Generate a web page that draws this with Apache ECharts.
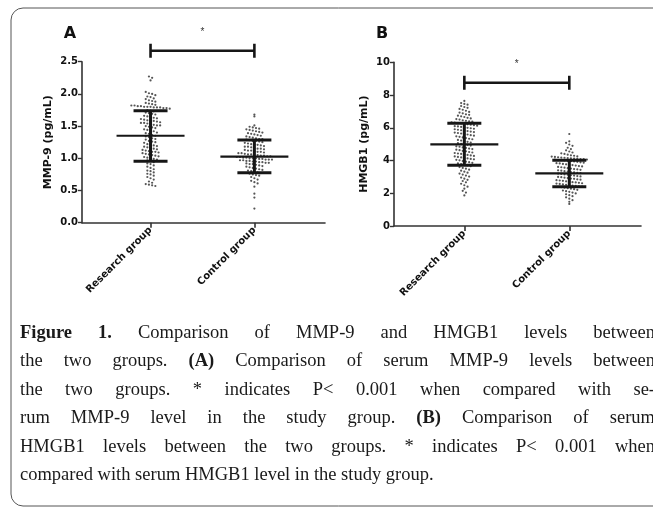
<!DOCTYPE html>
<html>
<head>
<meta charset="utf-8">
<script src="https://cdn.jsdelivr.net/npm/echarts@6/dist/echarts.min.js"></script>
<style>html,body{margin:0;padding:0;background:#fff}#c{width:653px;height:508px}</style>
</head>
<body>
<div id="c"></div>
<script>
// ---------- data ----------
const categories = ['Research group', 'Control group'];
const panelLetters = ['A', 'B'];
const yAxisNames = ['MMP-9 (pg/mL)', 'HMGB1 (pg/mL)'];

const researchMMP9 = [2.27, 2.25, 2.21,
  2.03, 2.01, 2.00, 1.98, 1.96, 1.95, 1.93, 1.92, 1.90, 1.89, 1.88, 1.86, 1.85, 1.84, 1.83, 1.82, 1.82, 1.81, 1.81, 1.80, 1.80, 1.80, 1.79, 1.79, 1.79, 1.78, 1.78, 1.77,
  1.75, 1.74, 1.73, 1.71, 1.70, 1.69, 1.68, 1.66, 1.65, 1.64, 1.63, 1.62, 1.61, 1.60, 1.59, 1.58, 1.58, 1.57, 1.56, 1.55, 1.55, 1.54, 1.53, 1.52, 1.51, 1.51, 1.50, 1.49, 1.48, 1.47, 1.45, 1.44, 1.43, 1.42, 1.40, 1.39, 1.38, 1.36, 1.35, 1.34, 1.33, 1.31, 1.30, 1.29, 1.27, 1.26, 1.25, 1.24, 1.22, 1.21, 1.20, 1.19, 1.18, 1.17, 1.16, 1.15, 1.14, 1.13, 1.12, 1.11, 1.10, 1.10, 1.09, 1.08, 1.07, 1.06, 1.05, 1.04, 1.03, 1.02, 1.01, 1.00, 0.99, 0.98, 0.97, 0.96,
  0.94, 0.92, 0.91, 0.89, 0.87, 0.85, 0.83, 0.81, 0.80, 0.78, 0.76, 0.75, 0.73, 0.71, 0.69, 0.67, 0.64, 0.62, 0.60, 0.59, 0.58, 0.57];
const controlMMP9 = [1.68, 1.65,
  1.51, 1.49, 1.48, 1.47, 1.46, 1.45, 1.44, 1.43, 1.42, 1.41, 1.40, 1.39, 1.38, 1.37, 1.36, 1.35, 1.34, 1.33, 1.32, 1.31, 1.30, 1.30, 1.29, 1.28, 1.27, 1.27, 1.26, 1.25, 1.24, 1.23, 1.22, 1.21, 1.21, 1.20, 1.19, 1.18, 1.18, 1.17, 1.16, 1.15, 1.15, 1.14, 1.13, 1.12, 1.12, 1.11, 1.10, 1.10, 1.09, 1.08, 1.08, 1.07, 1.06, 1.06, 1.05, 1.05, 1.04, 1.04, 1.03, 1.03, 1.02, 1.02, 1.01, 1.01, 1.00, 1.00, 1.00, 0.99, 0.99, 0.98, 0.98, 0.98, 0.97, 0.97, 0.96, 0.96, 0.95, 0.95, 0.94, 0.94, 0.93, 0.93, 0.92, 0.91, 0.91, 0.90, 0.89, 0.88, 0.87, 0.86, 0.85, 0.84, 0.83, 0.82, 0.81, 0.80, 0.79, 0.78, 0.77, 0.76, 0.75, 0.74, 0.73, 0.71, 0.69, 0.67, 0.65, 0.63, 0.61, 0.56, 0.45, 0.39, 0.22];
const researchHMGB1 = [7.64, 7.51, 7.46, 7.41, 7.33, 7.27, 7.22, 7.15, 7.10, 7.04, 6.97, 6.93, 6.88, 6.82, 6.79, 6.74, 6.70, 6.66, 6.61, 6.57, 6.53, 6.50, 6.46, 6.43, 6.40, 6.37, 6.33, 6.31, 6.28, 6.26, 6.24, 6.21, 6.19, 6.16, 6.13, 6.10, 6.08, 6.05, 6.02, 6.00, 5.97, 5.94, 5.91, 5.88, 5.85, 5.82, 5.80, 5.77, 5.74, 5.71, 5.68, 5.65, 5.62, 5.59, 5.55, 5.52, 5.48, 5.45, 5.41, 5.37, 5.33, 5.30, 5.26, 5.22, 5.18, 5.14, 5.10, 5.06, 5.02, 4.98, 4.95, 4.91, 4.87, 4.84, 4.80, 4.77, 4.73, 4.70, 4.66, 4.63, 4.59, 4.56, 4.52, 4.49, 4.46, 4.43, 4.40, 4.37, 4.34, 4.31, 4.28, 4.25, 4.22, 4.19, 4.16, 4.13, 4.10, 4.07, 4.04, 4.01, 3.97, 3.93, 3.90, 3.86, 3.82, 3.78, 3.74, 3.70, 3.65, 3.60, 3.55, 3.50, 3.44, 3.38, 3.32, 3.26, 3.20, 3.14, 3.08, 3.02, 2.96, 2.89, 2.82, 2.75, 2.67, 2.58, 2.49, 2.40, 2.28, 2.15, 2.04, 1.87];
const controlHMGB1 = [5.62, 5.17, 5.08, 4.98, 4.90, 4.78, 4.70, 4.62, 4.55, 4.49, 4.44, 4.40, 4.36, 4.32, 4.29, 4.26, 4.24, 4.22, 4.20, 4.18, 4.17, 4.15, 4.14, 4.12, 4.11, 4.09, 4.08, 4.06, 4.05, 4.03, 4.02, 4.00, 3.98, 3.96, 3.94, 3.92, 3.89, 3.87, 3.84, 3.82, 3.79, 3.77, 3.74, 3.72, 3.69, 3.66, 3.64, 3.61, 3.59, 3.56, 3.53, 3.51, 3.48, 3.46, 3.43, 3.40, 3.38, 3.35, 3.33, 3.30, 3.28, 3.25, 3.23, 3.20, 3.18, 3.15, 3.13, 3.10, 3.08, 3.05, 3.03, 3.00, 2.98, 2.95, 2.93, 2.90, 2.88, 2.85, 2.83, 2.80, 2.78, 2.76, 2.73, 2.71, 2.68, 2.66, 2.64, 2.61, 2.59, 2.57, 2.54, 2.52, 2.50, 2.47, 2.45, 2.42, 2.40, 2.37, 2.34, 2.31, 2.28, 2.25, 2.21, 2.17, 2.13, 2.09, 2.04, 1.99, 1.94, 1.88, 1.82, 1.75, 1.67, 1.58, 1.48, 1.35];

// mean and SD limits [research, control]
const meanMMP9 = [1.35, 1.025];
const sdLowMMP9 = [0.953, 0.776];
const sdHighMMP9 = [1.739, 1.284];
const meanHMGB1 = [4.99, 3.22];
const sdLowHMGB1 = [3.71, 2.40];
const sdHighHMGB1 = [6.27, 4.01];

// significance bracket heights (axis units)
const sigMMP9 = 2.67;
const sigHMGB1 = 8.75;
const sigLabel = '*';

// y axis ranges and tick steps
const yMaxA = 2.5, yStepA = 0.5;
const yMaxB = 10, yStepB = 2;

const captionLines = [
  [['Figure 1.', true], [' Comparison of MMP-9 and HMGB1 levels between', false]],
  [['the two groups. ', false], ['(A)', true], [' Comparison of serum MMP-9 levels between', false]],
  [['the two groups. * indicates P< 0.001 when compared with se-', false]],
  [['rum MMP-9 level in the study group. ', false], ['(B)', true], [' Comparison of serum', false]],
  [['HMGB1 levels between the two groups. * indicates P< 0.001 when', false]],
  [['compared with serum HMGB1 level in the study group.', false]]
];

// ---------- layout ----------
const gridA = {left: 82, top: 61.7, width: 243, height: 161};
const gridB = {left: 394, top: 62.3, width: 247, height: 163.7};
const xRangeA = [-0.66, 1.68];
const xRangeB = [-0.67, 1.683];

function swarm(values, center, grid, xRange, yMax, rowPx, colPx) {
  const pyu = grid.height / yMax;
  const pxu = grid.width / (xRange[1] - xRange[0]);
  const rows = {};
  values.forEach(v => {
    const r = Math.round(v * pyu / rowPx);
    (rows[r] = rows[r] || []).push(v);
  });
  const out = [];
  Object.keys(rows).forEach(k => {
    const arr = rows[k];
    const n = arr.length;
    arr.forEach((v, i) => {
      const off = (i - (n - 1) / 2) * colPx;
      out.push([center + off / pxu, v]);
    });
  });
  return out;
}

const ROW = 3.4, COL = 3.2;
const dotsA0 = swarm(researchMMP9, 0, gridA, xRangeA, yMaxA, ROW, COL);
const dotsA1 = swarm(controlMMP9, 1, gridA, xRangeA, yMaxA, ROW, COL);
const dotsB0 = swarm(researchHMGB1, 0, gridB, xRangeB, yMaxB, ROW, COL);
const dotsB1 = swarm(controlHMGB1, 1, gridB, xRangeB, yMaxB, ROW, COL);

const INK = '#161616';
const LABEL_FONT = '"DejaVu Sans", sans-serif';

function xAxisCfg(gi, range) {
  return {
    type: 'value', gridIndex: gi, min: range[0], max: range[1],
    splitLine: {show: false},
    axisLine: {show: true, onZero: false, lineStyle: {color: '#333', width: 1.6}},
    axisTick: {show: true, customValues: [0, 1], length: 5, lineStyle: {color: '#333', width: 1.6}},
    axisLabel: {
      customValues: [0, 1], rotate: 45, margin: 6,
      formatter: v => categories[Math.round(v)],
      color: '#111', fontFamily: LABEL_FONT, fontWeight: 'bold', fontSize: 10
    }
  };
}
function yAxisCfg(gi, max, step, name, gap, digits) {
  return {
    type: 'value', gridIndex: gi, min: 0, max: max, interval: step,
    name: name, nameLocation: 'middle', nameGap: gap,
    nameTextStyle: {color: '#111', fontFamily: LABEL_FONT, fontWeight: 'bold', fontSize: 11},
    splitLine: {show: false},
    axisLine: {show: true, onZero: false, lineStyle: {color: '#333', width: 1.6}},
    axisTick: {show: true, length: 4, lineStyle: {color: '#333', width: 1.4}},
    axisLabel: {
      margin: 4, color: '#111', fontFamily: LABEL_FONT, fontWeight: 'bold', fontSize: 10,
      formatter: v => v.toFixed(digits)
    }
  };
}

function summarySeries(gi, means, lows, highs) {
  return {
    type: 'custom', xAxisIndex: gi, yAxisIndex: gi, clip: false, z: 5,
    data: means.map((m, i) => [i, m, lows[i], highs[i]]),
    renderItem: (params, api) => {
      const x = api.value(0);
      const m = api.coord([x, api.value(1)]);
      const lo = api.coord([x, api.value(2)]);
      const hi = api.coord([x, api.value(3)]);
      const st = w => ({stroke: INK, lineWidth: w});
      return {type: 'group', children: [
        {type: 'line', shape: {x1: m[0] - 34, y1: m[1], x2: m[0] + 34, y2: m[1]}, style: st(2.2)},
        {type: 'line', shape: {x1: lo[0], y1: lo[1], x2: hi[0], y2: hi[1]}, style: st(3)},
        {type: 'line', shape: {x1: lo[0] - 17, y1: lo[1], x2: lo[0] + 17, y2: lo[1]}, style: st(3)},
        {type: 'line', shape: {x1: hi[0] - 17, y1: hi[1], x2: hi[0] + 17, y2: hi[1]}, style: st(3)}
      ]};
    }
  };
}
function sigSeries(gi, yv) {
  return {
    type: 'custom', xAxisIndex: gi, yAxisIndex: gi, clip: false, z: 5,
    data: [[0, 1, yv]],
    renderItem: (params, api) => {
      const a = api.coord([api.value(0), api.value(2)]);
      const b = api.coord([api.value(1), api.value(2)]);
      const st = {stroke: INK, lineWidth: 2.6};
      return {type: 'group', children: [
        {type: 'line', shape: {x1: a[0], y1: a[1], x2: b[0], y2: b[1]}, style: st},
        {type: 'line', shape: {x1: a[0], y1: a[1] - 7, x2: a[0], y2: a[1] + 7}, style: st},
        {type: 'line', shape: {x1: b[0], y1: b[1] - 7, x2: b[0], y2: b[1] + 7}, style: st},
        {type: 'text', style: {x: (a[0] + b[0]) / 2, y: a[1] - 19, text: sigLabel, fill: '#333',
          font: '10px "Liberation Sans", sans-serif', align: 'center', verticalAlign: 'middle'}}
      ]};
    }
  };
}
function dotSeries(gi, data) {
  return {type: 'scatter', xAxisIndex: gi, yAxisIndex: gi, data: data, symbol: 'circle',
    symbolSize: 2.2, itemStyle: {color: '#2a2a2a'}, silent: true, z: 3};
}

// ---------- caption (justified) ----------
const CAP_SIZE = 18.5, CAP_X = 20, CAP_RIGHT = 655, CAP_Y0 = 333, CAP_LH = 28.5;
const mctx = document.createElement('canvas').getContext('2d');
function capFont(bold) { return (bold ? 'bold ' : '') + CAP_SIZE + 'px "Liberation Serif", serif'; }
function measure(t, bold) { mctx.font = capFont(bold); return mctx.measureText(t).width; }
const captionEls = [];
captionLines.forEach((segs, li) => {
  const words = [];
  segs.forEach(([t, b]) => {
    t.split(' ').forEach((w, k) => {
      if (k > 0) words.push(null);
      if (w.length) words.push([w, b]);
    });
  });
  const groups = []; let cur = [];
  words.forEach(w => { if (w === null) { if (cur.length) groups.push(cur); cur = []; } else cur.push(w); });
  if (cur.length) groups.push(cur);
  const widths = groups.map(g => g.reduce((s, [t, b]) => s + measure(t, b), 0));
  const total = widths.reduce((s, w) => s + w, 0);
  const last = li === captionLines.length - 1;
  const natSpace = measure(' ', false);
  const space = last ? natSpace : Math.max(2, (CAP_RIGHT - CAP_X - total) / (groups.length - 1));
  let x = CAP_X;
  const y = CAP_Y0 + li * CAP_LH;
  groups.forEach(g => {
    g.forEach(([t, b]) => {
      captionEls.push({type: 'text', x: x, y: y, style: {text: t, font: capFont(b), fill: '#1a1a1a',
        align: 'left', verticalAlign: 'middle'}, silent: true});
      x += measure(t, b);
    });
    x += space;
  });
});

const chart = echarts.init(document.getElementById('c'), null, {renderer: 'canvas'});
chart.setOption({
  animation: false,
  backgroundColor: '#fff',
  grid: [
    Object.assign({}, gridA, {containLabel: false}),
    Object.assign({}, gridB, {containLabel: false})
  ],
  xAxis: [xAxisCfg(0, xRangeA), xAxisCfg(1, xRangeB)],
  yAxis: [
    yAxisCfg(0, yMaxA, yStepA, yAxisNames[0], 28, 1),
    yAxisCfg(1, yMaxB, yStepB, yAxisNames[1], 24, 0)
  ],
  series: [
    dotSeries(0, dotsA0), dotSeries(0, dotsA1),
    dotSeries(1, dotsB0), dotSeries(1, dotsB1),
    summarySeries(0, meanMMP9, sdLowMMP9, sdHighMMP9),
    summarySeries(1, meanHMGB1, sdLowHMGB1, sdHighHMGB1),
    sigSeries(0, sigMMP9), sigSeries(1, sigHMGB1)
  ],
  graphic: [
    {type: 'rect', shape: {x: 11, y: 8, width: 700, height: 498, r: 12},
      style: {fill: 'none', stroke: '#555', lineWidth: 1}, silent: true},
    {type: 'text', x: 70, y: 34, style: {text: panelLetters[0], font: 'bold 16px "DejaVu Sans", sans-serif',
      fill: '#111', align: 'center', verticalAlign: 'middle'}},
    {type: 'text', x: 382, y: 34, style: {text: panelLetters[1], font: 'bold 16px "DejaVu Sans", sans-serif',
      fill: '#111', align: 'center', verticalAlign: 'middle'}}
  ].concat(captionEls)
});
</script>
</body>
</html>
